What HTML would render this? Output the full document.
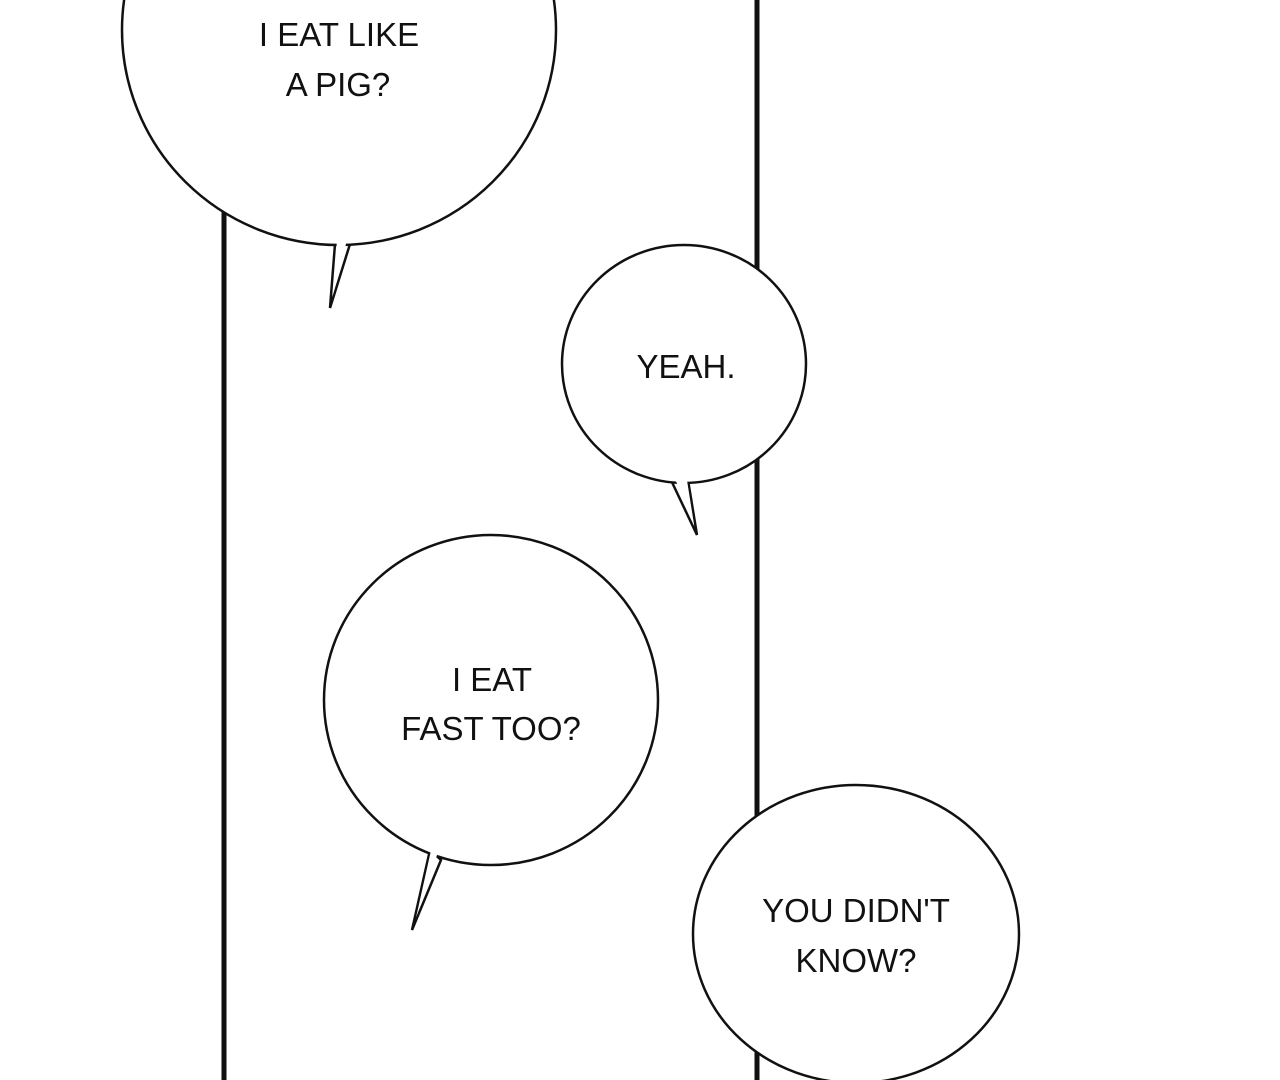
<!DOCTYPE html>
<html><head><meta charset="utf-8"><style>
html,body{margin:0;padding:0;background:#fff;width:1280px;height:1080px;overflow:hidden}
svg{display:block}
text{font-family:"Liberation Sans",sans-serif;font-size:33px;fill:#111;text-anchor:middle;letter-spacing:0px}
</style></head><body>
<svg width="1280" height="1080" viewBox="0 0 1280 1080">
<rect width="1280" height="1080" fill="#fff"/>
<line x1="224" y1="150" x2="224" y2="1080" stroke="#111" stroke-width="5"/>
<line x1="757" y1="0" x2="757" y2="1080" stroke="#111" stroke-width="5"/>
<g fill="#fff" stroke="#111" stroke-width="2.5">
<path d="M335 244 L330 308 L350 244 Z"/>
<ellipse cx="339" cy="30" rx="217" ry="215"/>
<path d="M670 478 L697 535 L688 480 Z"/>
<ellipse cx="684" cy="364" rx="122" ry="119"/>
<path d="M430 850 L412 930 L441 860 Z"/>
<ellipse cx="491" cy="700" rx="167" ry="165"/>
<ellipse cx="856" cy="934" rx="163" ry="149"/>
</g>
<g stroke="none" fill="#fff">
<path d="M337 240 L333 295 L347 240 Z"/>
<path d="M673 474 L694 525 L686 474 Z"/>
<path d="M432 846 L416 918 L438 852 Z"/>
</g>
<text x="339" y="46">I EAT LIKE</text>
<text x="338" y="96">A PIG?</text>
<text x="686" y="378">YEAH.</text>
<text x="492" y="691">I EAT</text>
<text x="491" y="740">FAST TOO?</text>
<text x="856" y="922">YOU DIDN'T</text>
<text x="856" y="972">KNOW?</text>
</svg>
</body></html>
